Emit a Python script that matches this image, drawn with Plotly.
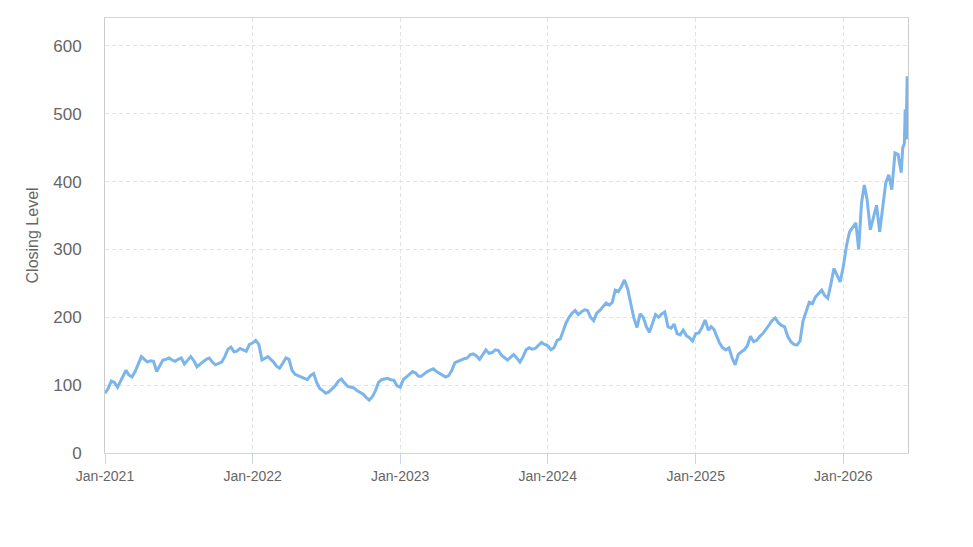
import calendar
from datetime import datetime, timedelta
import plotly.graph_objects as go

# Weekly-ish closing levels (4 readings per month)
close_2021 = [88, 95, 106, 104, 97, 105, 114, 122, 115, 112, 120, 132,
              142, 138, 134, 136, 135, 120, 128, 137, 138, 140, 137, 135,
              138, 140, 131, 137, 142, 136, 127, 131, 135, 138, 140, 134,
              130, 132, 134, 142, 153, 156, 149, 150, 154, 152, 150, 160]
close_2022 = [162, 166, 160, 137, 140, 142, 138, 134, 128, 125, 132, 140,
              138, 122, 116, 114, 112, 110, 108, 114, 117, 104, 95, 92,
              88, 90, 94, 99, 106, 109, 103, 98, 97, 96, 92, 89,
              87, 82, 78, 83, 92, 104, 108, 109, 110, 108, 107, 99]
close_2023 = [97, 108, 112, 115, 120, 118, 113, 113, 117, 120, 122, 124,
              120, 117, 114, 112, 114, 122, 133, 135, 138, 139, 140, 145,
              146, 143, 138, 145, 152, 147, 148, 152, 151, 144, 140, 137,
              141, 145, 140, 134, 142, 152, 155, 153, 154, 158, 163, 160]
close_2024 = [158, 152, 155, 166, 168, 180, 192, 200, 206, 210, 204, 208,
              211, 210, 200, 195, 206, 210, 215, 221, 218, 222, 240, 238,
              245, 255, 242, 222, 199, 185, 205, 200, 186, 178, 192, 204,
              200, 205, 208, 186, 184, 190, 176, 174, 181, 173, 170, 165]
close_2025 = [176, 177, 185, 196, 181, 186, 182, 172, 162, 155, 152, 155,
              140, 130, 145, 149, 152, 158, 172, 164, 166, 172, 176, 182,
              189, 195, 199, 192, 188, 186, 172, 164, 160, 159, 165, 195,
              208, 222, 220, 230, 235, 240, 232, 228, 248, 272, 262, 252]
close_2026 = [275, 305, 326, 333, 339, 300, 368, 395, 373, 329, 346, 365,
              326, 365, 398, 410, 388, 442, 440, 413]
tail_dates = ["2026-05-28", "2026-06-01", "2026-06-03", "2026-06-05", "2026-06-08", "2026-06-10"]
tail_values = [450, 456, 506, 462, 555, 462]

year_series = [(2021, close_2021), (2022, close_2022), (2023, close_2023),
               (2024, close_2024), (2025, close_2025), (2026, close_2026)]

dates, values = [], []
for year, vals in year_series:
    for i, v in enumerate(vals):
        month = i // 4 + 1
        j = i % 4
        ndays = calendar.monthrange(year, month)[1]
        d = datetime(year, month, 1) + timedelta(days=j * ndays / 4)
        dates.append(d)
        values.append(v)
for d, v in zip(tail_dates, tail_values):
    dates.append(datetime.fromisoformat(d))
    values.append(v)

year_ticks = ["2021-01-01", "2022-01-01", "2023-01-01", "2024-01-01", "2025-01-01", "2026-01-01"]
year_labels = ["Jan-2021", "Jan-2022", "Jan-2023", "Jan-2024", "Jan-2025", "Jan-2026"]
y_ticks = [0, 100, 200, 300, 400, 500, 600]

fig = go.Figure()
fig.add_trace(go.Scatter(
    x=dates, y=values, mode="lines",
    line=dict(color="#7cb5ec", width=3),
    hoverinfo="x+y", showlegend=False,
))

fig.update_layout(
    width=973, height=547,
    margin=dict(l=105, r=65, t=18, b=94),
    paper_bgcolor="white", plot_bgcolor="white",
    font=dict(family="Liberation Sans, Arial, sans-serif", color="#666666"),
    annotations=[dict(
        text="Closing Level", textangle=-90,
        xref="paper", yref="paper", x=-0.0897, y=0.5,
        xanchor="center", yanchor="middle", showarrow=False,
        font=dict(size=16, color="#666666"),
    )],
)

fig.update_xaxes(
    range=["2021-01-01", "2026-06-10"],
    tickvals=year_ticks, ticktext=year_labels,
    tickfont=dict(size=14, color="#666666"),
    showgrid=True, gridcolor="#e3e3e3", griddash="4px,3px", gridwidth=1,
    showline=True, linecolor="#ccd6eb", linewidth=1, mirror=True,
    ticks="outside", ticklen=10, tickcolor="#ccd6eb", tickwidth=1,
    zeroline=False,
)
fig.update_yaxes(
    range=[0, 641],
    tickvals=y_ticks,
    tickfont=dict(size=17, color="#666666"),
    showgrid=True, gridcolor="#e3e3e3", griddash="4px,3px", gridwidth=1,
    showline=True, linecolor="#cccccc", linewidth=1, mirror=True,
    ticks="", ticklabelstandoff=19,
    zeroline=False,
)

fig.write_html("out.html")
